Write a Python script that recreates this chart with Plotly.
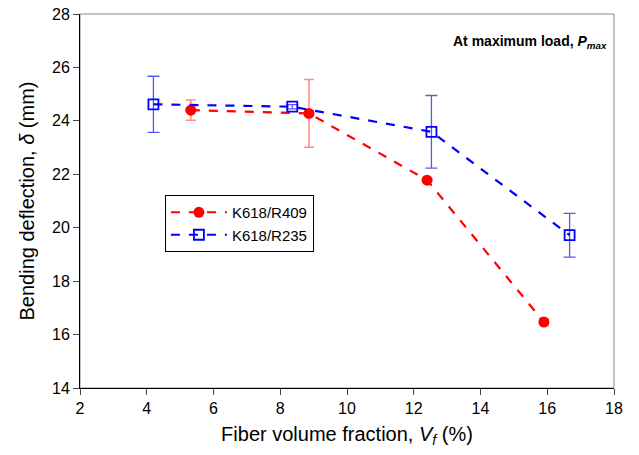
import plotly.graph_objects as go

# Data
r409_x = [5.32, 8.86, 12.4, 15.9]
r409_y = [24.4, 24.28, 21.78, 16.47]
r409_err = [0.38, 1.27, 0.06, 0.1]

r235_x = [4.2, 8.36, 12.53, 16.67]
r235_y = [24.62, 24.53, 23.59, 19.72]
r235_err = [1.05, 0.08, 1.36, 0.82]

x_ticks = [2, 4, 6, 8, 10, 12, 14, 16, 18]
y_ticks = [14, 16, 18, 20, 22, 24, 26, 28]

fig = go.Figure()

fig.add_trace(go.Scatter(
    x=r409_x, y=r409_y, name="K618/R409", mode="lines+markers",
    line=dict(color="red", width=2.2, dash="dash"),
    marker=dict(symbol="circle", size=11, color="red"),
    error_y=dict(type="data", array=r409_err, visible=True,
                 color="rgba(255,60,60,0.6)", thickness=1.5, width=5),
))
fig.add_trace(go.Scatter(
    x=r235_x, y=r235_y, name="K618/R235", mode="lines+markers",
    line=dict(color="blue", width=2.2, dash="dash"),
    marker=dict(symbol="square-open", size=10, color="blue", line=dict(width=1.8)),
    error_y=dict(type="data", array=r235_err, visible=True,
                 color="rgba(30,30,255,0.75)", thickness=1.3, width=6),
))

fig.add_shape(type="rect", xref="paper", yref="paper", x0=0, y0=0, x1=1, y1=1,
              line=dict(color="#888888", width=1), layer="below")

fig.add_annotation(xref="paper", yref="paper", x=0.99, y=0.925, xanchor="right", yanchor="middle",
                   text="<b>At maximum load, <i>P<sub>max</sub></i></b>", showarrow=False,
                   font=dict(size=14, color="black", family="Liberation Sans"))

fig.update_layout(
    width=639, height=455,
    margin=dict(l=80, r=25, t=14, b=67),
    paper_bgcolor="white", plot_bgcolor="white",
    font=dict(family="Liberation Sans", color="black"),
    showlegend=True,
    legend=dict(x=0.159, y=0.516, xanchor="left", yanchor="top",
                bordercolor="black", borderwidth=1, bgcolor="white",
                font=dict(size=15), itemwidth=56, tracegroupgap=0),
)
fig.update_xaxes(range=[2, 18], tickvals=x_ticks, ticks="outside", ticklen=6,
                 showline=True, linecolor="black", linewidth=1, showgrid=False, zeroline=False,
                 tickfont=dict(size=16), automargin=False,
                 title=dict(text="Fiber volume fraction, <i>V<sub>f</sub></i> (%)", font=dict(size=20), standoff=10))
fig.update_yaxes(range=[14, 28], tickvals=y_ticks, ticks="outside", ticklen=6,
                 showline=True, linecolor="black", linewidth=1, showgrid=False, zeroline=False,
                 tickfont=dict(size=16), automargin=False,
                 title=dict(text="Bending deflection, <i>δ</i> (mm)", font=dict(size=20), standoff=12))

fig.write_html("out.html", config={"displayModeBar": False},
               post_script="document.body.style.margin='0';")
